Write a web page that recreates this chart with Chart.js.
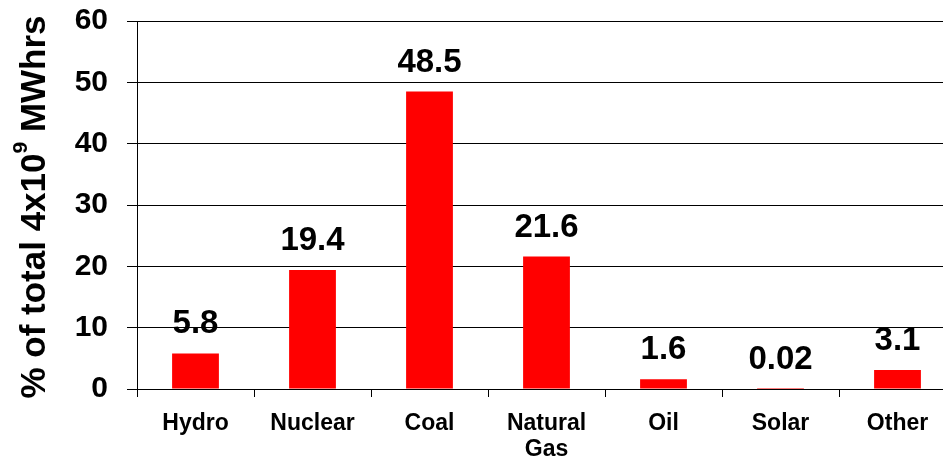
<!DOCTYPE html>
<html>
<head>
<meta charset="utf-8">
<script src="https://cdn.jsdelivr.net/npm/chart.js@4"></script>
<style>
  body { margin: 0; background: #fff; overflow: hidden; width: 943px; height: 468px; }
  canvas { display: block; }
</style>
</head>
<body>
<canvas id="bar-chart" width="960" height="468"></canvas>
<script>
// data
const categories = ['Hydro', 'Nuclear', 'Coal', 'Natural Gas', 'Oil', 'Solar', 'Other'];
const shares = [5.8, 19.4, 48.5, 21.6, 1.6, 0.02, 3.1];
const yTicks = [0, 10, 20, 30, 40, 50, 60];

const FONT = '"Liberation Sans", Arial, sans-serif';

// value labels above each bar
const valueLabels = {
    id: 'valueLabels',
    afterDatasetsDraw(chart) {
        const ctx = chart.ctx;
        const meta = chart.getDatasetMeta(0);
        ctx.save();
        ctx.font = 'bold 33px ' + FONT;
        ctx.fillStyle = '#000';
        ctx.textAlign = 'center';
        ctx.textBaseline = 'alphabetic';
        meta.data.forEach((bar, i) => {
            ctx.fillText(String(shares[i]), bar.x, bar.y - 20);
        });
        ctx.restore();
    }
};

// rotated y title with superscript
const yTitle = {
    id: 'yTitle',
    afterDraw(chart) {
        const ctx = chart.ctx;
        const parts = [
            { t: '% of total 4x10', size: 35, dy: 0 },
            { t: '9', size: 21, dy: -18 },
            { t: ' MWhrs', size: 35, dy: 0 }
        ];
        ctx.save();
        ctx.translate(45, 207);
        ctx.rotate(-Math.PI / 2);
        ctx.fillStyle = '#000';
        ctx.textBaseline = 'alphabetic';
        ctx.textAlign = 'left';
        let total = 0;
        parts.forEach(p => {
            ctx.font = 'bold ' + p.size + 'px ' + FONT;
            p.w = ctx.measureText(p.t).width;
            total += p.w;
        });
        let x = -total / 2;
        parts.forEach(p => {
            ctx.font = 'bold ' + p.size + 'px ' + FONT;
            ctx.fillText(p.t, x, p.dy);
            x += p.w;
        });
        ctx.restore();
    }
};

const ctx = document.getElementById('bar-chart').getContext('2d');

new Chart(ctx, {
    type: 'bar',
    data: {
        labels: categories,
        datasets: [{
            data: shares,
            backgroundColor: '#ff0000',
            borderWidth: 0,
            barPercentage: 0.4,
            categoryPercentage: 1
        }]
    },
    options: {
        responsive: false,
        animation: false,
        layout: {
            padding: { top: 21, right: 4, left: 0, bottom: 0 }
        },
        plugins: {
            legend: { display: false },
            tooltip: { enabled: false }
        },
        scales: {
            x: {
                offset: true,
                afterFit: s => {
                    s.height = 79;
                    s.paddingLeft = 0;
                    s.paddingRight = 0;
                },
                grid: {
                    offset: true,
                    drawOnChartArea: false,
                    drawTicks: true,
                    tickLength: 8,
                    color: '#000'
                },
                border: { color: '#000', width: 1 },
                ticks: {
                    color: '#000',
                    padding: 13,
                    maxRotation: 0,
                    font: { family: FONT, size: 23, weight: 'bold', lineHeight: 1.15 },
                    callback: (v, i) => categories[i].split(' ')
                }
            },
            y: {
                min: 0,
                max: 60,
                afterFit: s => {
                    s.width = 137;
                    s.paddingTop = 0;
                    s.paddingBottom = 0;
                },
                afterBuildTicks: s => { s.ticks = yTicks.map(v => ({ value: v })); },
                grid: {
                    color: '#000',
                    lineWidth: 1,
                    tickLength: 10
                },
                border: { color: '#000', width: 1 },
                ticks: {
                    color: '#000',
                    padding: 19,
                    font: { family: FONT, size: 30, weight: 'bold' }
                }
            }
        }
    },
    plugins: [valueLabels, yTitle]
});
</script>
</body>
</html>
